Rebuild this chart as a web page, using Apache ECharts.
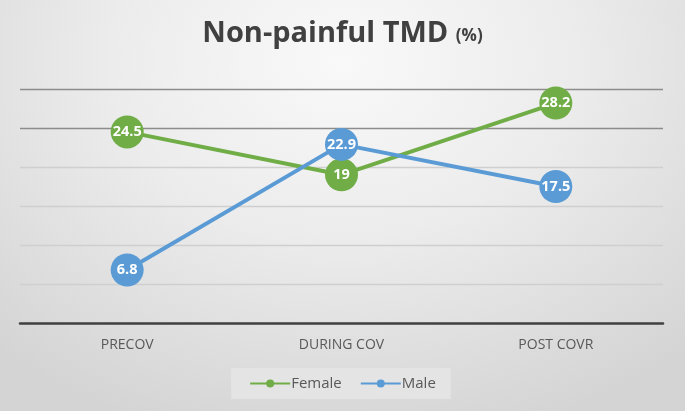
<!DOCTYPE html>
<html>
<head>
<meta charset="utf-8">
<script src="https://cdn.jsdelivr.net/npm/echarts@6/dist/echarts.min.js"></script>
<style>
html,body{margin:0;padding:0;}
#c{width:685px;height:411px;background:radial-gradient(ellipse 75% 95% at 50% 15%, #f9f9f9 0%, #ececec 45%, #d4d4d4 100%);}
</style>
</head>
<body>
<div id="c"></div>
<script>
const categories = ['PRECOV', 'DURING COV', 'POST COVR'];
const femaleValues = [24.5, 19, 28.2];
const maleValues = [6.8, 22.9, 17.5];
const seriesNames = ['Female', 'Male'];

const chart = echarts.init(document.getElementById('c'), null, {renderer: 'canvas'});
const labelStyle = {show: true, position: 'inside', color: '#fff', fontSize: 14.5, fontWeight: 'bold', fontFamily: 'Open Sans'};
chart.setOption({
  backgroundColor: 'transparent',
  animation: false,
  title: {
    text: '{a|Non-painful TMD }{b|(%)}',
    left: 'center',
    top: 14,
    textStyle: {
      rich: {
        a: {fontSize: 29, fontWeight: 'bold', color: '#404040', fontFamily: 'Open Sans'},
        b: {fontSize: 17, fontWeight: 'bold', color: '#404040', fontFamily: 'Open Sans', padding: [6, 0, 0, 0]}
      }
    }
  },
  legend: {
    bottom: 12,
    left: 'center',
    data: seriesNames,
    itemWidth: 40,
    itemHeight: 10,
    itemGap: 18,
    backgroundColor: '#e4e4e4',
    padding: [8, 15, 8, 18],
    textStyle: {fontSize: 15, color: '#595959', fontFamily: 'Open Sans', padding: [0, 0, 0, -4]}
  },
  grid: {left: 20, right: 22, top: 89, bottom: 88},
  xAxis: {
    type: 'category',
    data: categories,
    axisLine: {lineStyle: {color: '#404040', width: 2.5}},
    axisTick: {show: false},
    axisLabel: {fontSize: 14, color: '#595959', fontFamily: 'Open Sans', margin: 15}
  },
  yAxis: {
    type: 'value',
    min: 0, max: 30, interval: 5,
    axisLabel: {show: false},
    axisLine: {show: false},
    axisTick: {show: false},
    splitLine: {lineStyle: {color: ['#d0d0d0', '#cfcfcf', '#cfcfcf', '#cfcfcf', '#cfcfcf', '#8c8c8c', '#8c8c8c'], width: 1.3}}
  },
  series: [
    {
      name: seriesNames[0], type: 'line', data: femaleValues,
      symbol: 'circle', symbolSize: 33,
      lineStyle: {width: 4, color: '#70AD47'},
      itemStyle: {color: '#70AD47'},
      label: labelStyle
    },
    {
      name: seriesNames[1], type: 'line', data: maleValues,
      symbol: 'circle', symbolSize: 33,
      lineStyle: {width: 4, color: '#5B9BD5'},
      itemStyle: {color: '#5B9BD5'},
      label: labelStyle
    }
  ]
});
</script>
</body>
</html>
